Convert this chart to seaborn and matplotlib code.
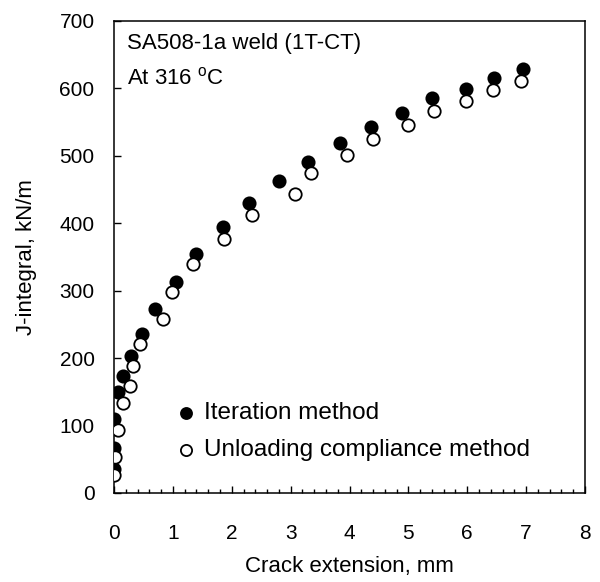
import pandas as pd
import matplotlib
matplotlib.use("Agg")
import matplotlib.pyplot as plt
from matplotlib.ticker import MultipleLocator
import seaborn as sns

# J-R curve data
iter_da = [0.0, 0.0, 0.0, 0.06, 0.15, 0.29, 0.47, 0.70, 1.05, 1.40, 1.85,
           2.29, 2.81, 3.30, 3.84, 4.37, 4.90, 5.40, 5.98, 6.45, 6.94]
iter_j = [35, 67, 109, 149, 174, 203, 236, 273, 313, 355, 394,
          430, 462, 491, 519, 543, 564, 585, 599, 616, 629]

ucm_da = [0.0, 0.02, 0.07, 0.15, 0.28, 0.33, 0.45, 0.84, 0.98, 1.34, 1.86,
          2.35, 3.07, 3.34, 3.95, 4.40, 4.99, 5.44, 5.98, 6.44, 6.91]
ucm_j = [27, 53, 94, 134, 159, 188, 221, 258, 298, 339, 376,
         412, 443, 474, 501, 525, 546, 567, 582, 598, 611]

iter_df = pd.DataFrame({'da': iter_da, 'J': iter_j})
ucm_df = pd.DataFrame({'da': ucm_da, 'J': ucm_j})

sns.set_style("white")
plt.rcParams['font.family'] = ['Liberation Sans', 'DejaVu Sans']
plt.rcParams['mathtext.fontset'] = 'custom'
plt.rcParams['mathtext.rm'] = 'Liberation Sans'
for key in ['text.color', 'axes.labelcolor', 'xtick.color', 'ytick.color']:
    plt.rcParams[key] = 'black'

fig = plt.figure(figsize=(6, 5.82), dpi=100)
ax = fig.add_axes([0.19, 0.153, 0.785, 0.811])

sns.scatterplot(x='da', y='J', data=iter_df, ax=ax, color='black',
                edgecolor='black', s=80, linewidth=1.2, label='Iteration method', zorder=3)
sns.scatterplot(x='da', y='J', data=ucm_df, ax=ax, color='white',
                edgecolor='black', s=80, linewidth=1.3,
                label='Unloading compliance method', zorder=4)

ax.set_xlim(0, 8)
ax.set_ylim(0, 700)
ax.xaxis.set_major_locator(MultipleLocator(1))
ax.xaxis.set_minor_locator(MultipleLocator(0.2))
ax.yaxis.set_major_locator(MultipleLocator(100))

ax.tick_params(axis='x', which='major', direction='in', length=5, width=1,
               labelsize=15, pad=22, bottom=True)
ax.tick_params(axis='x', which='minor', direction='in', length=3, width=1, bottom=True)
ax.tick_params(axis='y', which='major', direction='in', length=5, width=1,
               labelsize=15, pad=14, left=True)

for sp in ax.spines.values():
    sp.set_linewidth(1.1)
    sp.set_color('black')

ax.set_xlabel('Crack extension, mm', fontsize=16, labelpad=10)
ax.set_ylabel('J-integral, kN/m', fontsize=16, labelpad=16)

ax.text(0.027, 0.953, 'SA508-1a weld (1T-CT)', transform=ax.transAxes,
        fontsize=16, va='center', ha='left')
ax.text(0.027, 0.878, r'At 316 $^{\mathrm{o}}$C', transform=ax.transAxes,
        fontsize=16, va='center', ha='left')

leg = ax.legend(loc='upper left', bbox_to_anchor=(0.135, 0.192), frameon=False,
                fontsize=17.5, handlelength=0.7, handletextpad=0.4, labelspacing=0.62,
                borderpad=0, borderaxespad=0, markerscale=0.9)

plt.savefig('out.png', dpi=100)
